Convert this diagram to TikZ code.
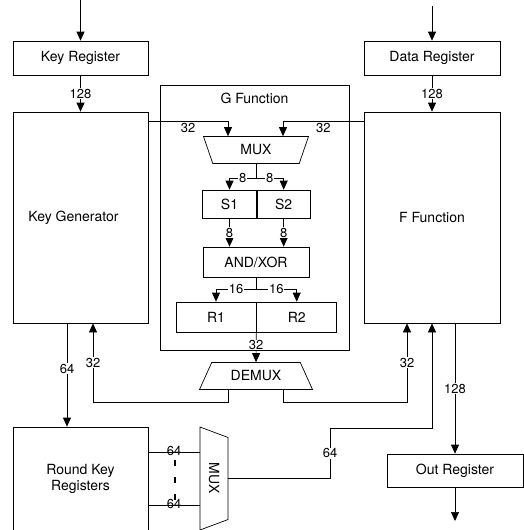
\documentclass[tikz,border=0pt]{standalone}
\usepackage{fontspec}
\setmainfont{TeX Gyre Heros}
\usetikzlibrary{positioning,arrows.meta,shapes.geometric}

\begin{document}
\begin{tikzpicture}[
  x=1pt, y=-1pt,
  line width=0.7pt,
  font=\fontsize{14}{16}\selectfont,
  blk/.style   = {draw, inner sep=0pt, align=center},
  lbl/.style   = {font=\fontsize{13}{13}\selectfont, fill=white, inner sep=0.8pt},
  ar/.style    = {-{Triangle[width=8pt,length=9pt]}},
  muxsh/.style = {draw, trapezium, trapezium stretches body, inner sep=0pt},
]
\useasboundingbox (0,0) rectangle (524,530);

% outer blocks
\node[blk, minimum width=135, minimum height=34]  (keyreg)  at (80.5,58)  {Key Register};
\node[blk, minimum width=136, minimum height=34]  (datareg) at (432,58)   {Data Register};
\node[blk, minimum width=135, minimum height=211] (keygen)  at (80.5,217.5) {Key Generator\hspace*{14pt}};
\node[blk, minimum width=136, minimum height=211] (ffun)    at (432,217.5)  {F Function};
\node[blk, minimum width=135, minimum height=104] (roundkey) at (80.5,479) {Round Key\\Registers};
\node[blk, minimum width=136, minimum height=33]  (outreg)  at (455,470.5) {Out Register};
\coordinate (kin)  at (80.5,0);
\coordinate (din)  at (432,6);
\coordinate (oout) at (455,521);

% G function and its parts
\node[blk, minimum width=189, minimum height=265] (gfun) at (254.5,217.5) {};
\node (gtitle) at (254.5,98) {G Function};
\node[muxsh, shape border rotate=180, trapezium angle=48.4,
      minimum width=105, minimum height=27] (mux) at (256,150) {MUX};
\node[blk, minimum width=53.5, minimum height=28] (s1) at (229.5,204) {S1};
\node[blk, minimum width=53.5, minimum height=28, right=0pt of s1] (s2) {S2};
\node[blk, minimum width=106, minimum height=30] (andxor) at (256,262) {AND/XOR};
\node[blk, minimum width=80, minimum height=30] (r1) at (216,317) {R1};
\node[blk, minimum width=80, minimum height=30, right=0pt of r1] (r2) {R2};
\node[muxsh, trapezium angle=40.6,
      minimum width=113, minimum height=27] (demux) at (256,376) {DEMUX};
\node[muxsh, rotate=-90, trapezium angle=45,
      minimum width=103, minimum height=28] (mux2) at (214,478.5) {MUX};

% connectors
\draw[ar] (kin) -- (keyreg);
\draw[ar] (din) -- (datareg);
\draw[ar] (keyreg) -- node[lbl]{128} (keygen);
\draw[ar] (datareg) -- node[lbl]{128} (ffun);
\draw[ar] ([yshift=-10pt]keygen.north east) -| node[lbl, fill=none, below, pos=0.25]{32} ([xshift=-28pt]mux.north);
\draw[ar] ([yshift=-10pt]ffun.north west) -| node[lbl, fill=none, below, pos=0.25]{32} ([xshift=27pt]mux.north);
\draw[ar] (mux.south) -- ++(0,14) -| node[lbl, pos=0.25]{8} (s1.north);
\draw[ar] (mux.south) -- ++(0,14) -| node[lbl, pos=0.25]{8} (s2.north);
\draw[ar] (s1.south) -- node[lbl]{8} (s1.south |- andxor.north);
\draw[ar] (s2.south) -- node[lbl]{8} (s2.south |- andxor.north);
\draw[ar] (andxor.south) -- ++(0,12) -| node[lbl, pos=0.25]{16} (r1.north);
\draw[ar] (andxor.south) -- ++(0,12) -| node[lbl, pos=0.25]{16} (r2.north);
\draw[ar] (r1.south east) -- node[lbl, inner sep=0.3pt, pos=0.42]{32} (demux.north);
\draw[ar] ([xshift=-28pt]demux.south) -- ++(0,12) -| node[lbl, pos=0.75]{32} ([xshift=12.5pt]keygen.south);
\draw[ar] ([xshift=27pt]demux.south) -- ++(0,12) -| node[lbl, pos=0.75]{32} ([xshift=-25pt]ffun.south);
\draw[ar] ([xshift=-13.5pt]keygen.south) -- node[lbl, pos=0.44]{64} ([xshift=-13.5pt]roundkey.north);

% round key registers into the mux
\coordinate (rk1) at ([yshift=26.5pt]roundkey.east);
\coordinate (rk2) at ([yshift=-26.5pt]roundkey.east);
\draw (rk1) -- node[lbl, fill=none, yshift=2pt]{64} (rk1 -| mux2.south);
\draw (rk2) -- node[lbl, fill=none, yshift=2pt]{64} (rk2 -| mux2.south);
\foreach \y in {463,480,497}
  \draw[line width=2.8pt] (175,\y-3) -- (175,\y+3);
\coordinate (mbend) at (330,428);
\draw[ar] (mux2.north) -| node[lbl, pos=0.75]{64} (mbend) -| (ffun.south);
\draw[ar] ([xshift=23pt]ffun.south) -- node[lbl]{128} (outreg.north);
\draw[ar] (outreg) -- (oout);
\end{tikzpicture}
\end{document}
